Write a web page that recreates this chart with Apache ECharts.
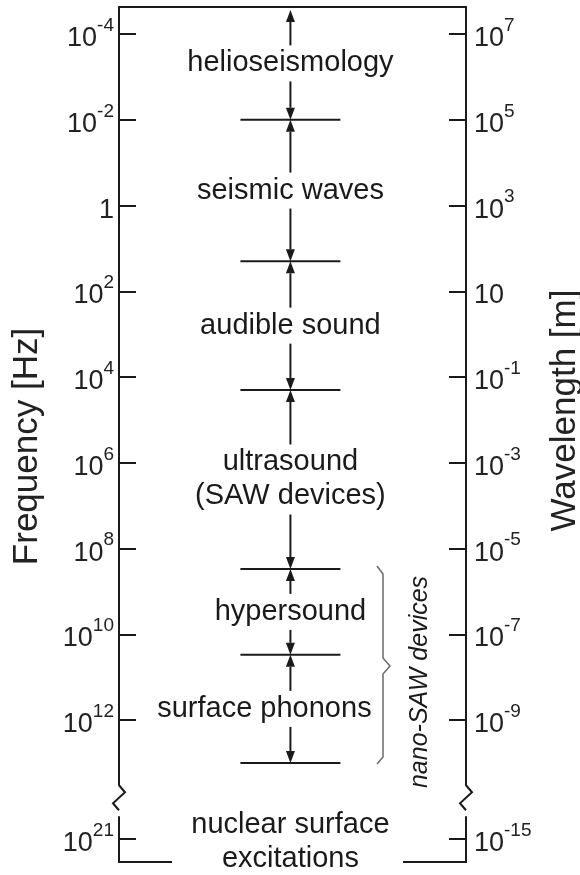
<!DOCTYPE html>
<html><head><meta charset="utf-8">
<script src="https://cdn.jsdelivr.net/npm/echarts@6/dist/echarts.min.js"></script>
<style>html,body{margin:0;padding:0;background:#fff}#c{width:580px;height:875px}</style>
</head><body><div id="c"></div>
<script>
// ---- data ----
const freqTicksHz = [1e-4, 1e-2, 1, 1e2, 1e4, 1e6, 1e8, 1e10, 1e12, 1e21];
const wavelengthTicksM = [1e7, 1e5, 1e3, 1e1, 1e-1, 1e-3, 1e-5, 1e-7, 1e-9, 1e-15];
const regionNames = ['helioseismology', 'seismic waves', 'audible sound', 'ultrasound\n(SAW devices)', 'hypersound', 'surface phonons'];
const regionFromHz = [null, 1e-2, 20, 2e4, 3e8, 3e10];   // null = extends beyond the axis top
const regionToHz   = [1e-2, 20, 2e4, 3e8, 3e10, 1e13];
const nuclearName = 'nuclear surface\nexcitations';
const nuclearHz = 1e21;
const nanoSawName = 'nano-SAW devices';
const nanoSawRangeHz = [3e8, 1e13];
const axisRangeHz = [2.34e-5, 3.47e21];
const axisBreakHz = [3.31e13, 3.09e20];

// ---- helpers / layout ----
const lg = Math.log10;
const ink = '#1a1a1a';
const FONT = 'Liberation Sans, Arial, Helvetica, sans-serif';
const tickExp = freqTicksHz.map(v => Math.round(lg(v)));
const waveExp = wavelengthTicksM.map(v => Math.round(lg(v)));
const yMin = lg(axisRangeHz[0]), yMax = lg(axisRangeHz[1]);
const markX = 0.494;
const labelShiftPx = { 'surface phonons': -26 };   // label nudged left, clear of the brace

function powLabel(e) {
  if (e === 0) return '{b|1}';
  if (e === 1) return '{b|10}';
  return '{b|10}{s|' + e + '}';
}
const rich = {
  b: { fontSize: 27, fontFamily: FONT, color: '#222', lineHeight: 36, verticalAlign: 'bottom' },
  s: { fontSize: 19, fontFamily: FONT, color: '#222', verticalAlign: 'top', lineHeight: 19 }
};

function arrow(x, yFrom, yTip) {
  const dir = yTip < yFrom ? -1 : 1;
  const base = yTip - dir * 12;
  return [
    { type: 'line', shape: { x1: x, y1: yFrom, x2: x, y2: base }, style: { stroke: ink, lineWidth: 2 } },
    { type: 'polygon', shape: { points: [[x, yTip], [x - 4.5, base], [x + 4.5, base]] }, style: { fill: ink } }
  ];
}
function textEl(x, y, txt, extra) {
  return Object.assign({
    type: 'text', x: x, y: y,
    style: { text: txt, fontSize: 29, fontFamily: FONT, fill: ink, align: 'center', verticalAlign: 'middle', lineHeight: 34 }
  }, extra || {});
}

function renderRegion(params, api) {
  const i = params.dataIndex;
  const x = api.coord([markX, 0])[0];
  const yTopEdge = regionFromHz[i] == null ? api.coord([0, yMin])[1] : api.coord([0, lg(regionFromHz[i])])[1];
  const yTip = regionFromHz[i] == null ? yTopEdge + 3 : yTopEdge;
  const yBot = api.coord([0, lg(regionToHz[i])])[1];
  const yc = (yTopEdge + yBot) / 2;
  const n = regionNames[i].split('\n').length;
  const half = 17 * n + 1;
  const children = [textEl(x + (labelShiftPx[regionNames[i]] || 0), yc, regionNames[i])];
  children.push(...arrow(x, yc - half, yTip));
  children.push(...arrow(x, yc + half, yBot));
  children.push({ type: 'line', shape: { x1: x - 50, y1: yBot, x2: x + 50, y2: yBot }, style: { stroke: ink, lineWidth: 2 } });
  return { type: 'group', children: children };
}

function renderNuclear(params, api) {
  const x = api.coord([markX, 0])[0];
  const y = api.coord([0, lg(nuclearHz)])[1];
  return textEl(x, y + 3, nuclearName, {});
}

function renderNano(params, api) {
  const y1 = api.coord([0, lg(nanoSawRangeHz[0])])[1];
  const y2 = api.coord([0, lg(nanoSawRangeHz[1])])[1];
  const xr = api.coord([1, 0])[0];
  const bx = xr - 83;
  const ym = (y1 + y2) / 2;
  return { type: 'group', children: [
    { type: 'polyline', shape: { points: [[bx - 6, y1 - 3], [bx, y1 + 5], [bx, ym - 8], [bx + 7, ym], [bx, ym + 8], [bx, y2 - 6], [bx - 6, y2 + 1]] },
      style: { stroke: '#6a6a6a', lineWidth: 1.5, fill: null } },
    { type: 'text', x: bx + 37, y: ym + 16, rotation: Math.PI / 2,
      style: { text: nanoSawName, fontSize: 25, fontStyle: 'italic', fontFamily: FONT, fill: ink, align: 'center', verticalAlign: 'middle' } }
  ] };
}

function renderFrame(params, api) {
  const xl = api.coord([0, yMax])[0], xr = api.coord([1, yMax])[0];
  const yb = api.coord([0, yMax])[1];
  const ys = api.coord([0, lg(axisBreakHz[0])])[1];
  const st = { stroke: ink, lineWidth: 2, fill: null };
  const zz = x => ({ type: 'polyline', shape: { points: [[x, ys], [x + 6, ys + 7], [x - 6, ys + 18], [x, ys + 25]] }, style: st });
  return { type: 'group', children: [
    { type: 'line', shape: { x1: xl - 1, y1: yb, x2: xl + 53, y2: yb }, style: st },
    { type: 'line', shape: { x1: xr - 63, y1: yb, x2: xr + 1, y2: yb }, style: st },
    zz(xl), zz(xr)
  ] };
}

function yAxisCfg(side) {
  return {
    type: 'value', inverse: true, min: yMin, max: yMax, position: side,
    breaks: [{ start: lg(axisBreakHz[0]), end: lg(axisBreakHz[1]), gap: 0.74 }],
    breakArea: { show: true, itemStyle: { color: 'rgba(255,255,255,0)', borderColor: 'rgba(0,0,0,0)', borderWidth: 0 } },
    axisLine: { show: true, onZero: false, lineStyle: { color: ink, width: 2 } },
    axisTick: { show: true, inside: true, length: 17, customValues: tickExp, lineStyle: { color: ink, width: 2 } },
    axisLabel: {
      customValues: tickExp, margin: side === 'left' ? 5 : 8, rich: rich,
      formatter: side === 'left' ? (v => powLabel(Math.round(v))) : (v => powLabel(waveExp[tickExp.indexOf(Math.round(v))]))
    },
    splitLine: { show: false },
    name: side === 'left' ? 'Frequency [Hz]' : 'Wavelength [m]',
    nameLocation: 'middle', nameRotate: 90, nameGap: side === 'left' ? 74 : 82,
    nameTextStyle: { fontSize: 35, fontFamily: FONT, color: '#222', padding: side === 'left' ? [0, 24, 0, 0] : [0, 0, 0, 48] }
  };
}

const chart = echarts.init(document.getElementById('c'), null, { renderer: 'canvas' });
chart.setOption({
  animation: false,
  backgroundColor: '#fff',
  grid: { left: 119, right: 114, top: 7, bottom: 13, containLabel: false, outerBoundsMode: 'none' },
  xAxis: { type: 'value', min: 0, max: 1, position: 'top',
    axisLine: { show: true, onZero: false, lineStyle: { color: ink, width: 2 } },
    axisTick: { show: false }, axisLabel: { show: false }, splitLine: { show: false } },
  yAxis: [yAxisCfg('left'), yAxisCfg('right')],
  series: [
    { type: 'custom', renderItem: renderRegion, data: regionNames.map((n, i) => [markX, lg(regionToHz[i])]), z: 5 },
    { type: 'custom', renderItem: renderNuclear, data: [[markX, lg(nuclearHz)]], z: 5 },
    { type: 'custom', renderItem: renderNano, data: [[markX, lg(nanoSawRangeHz[0])]], z: 5 },
    { type: 'custom', renderItem: renderFrame, data: [[0, yMax]], z: 5 }
  ]
});
</script></body></html>
